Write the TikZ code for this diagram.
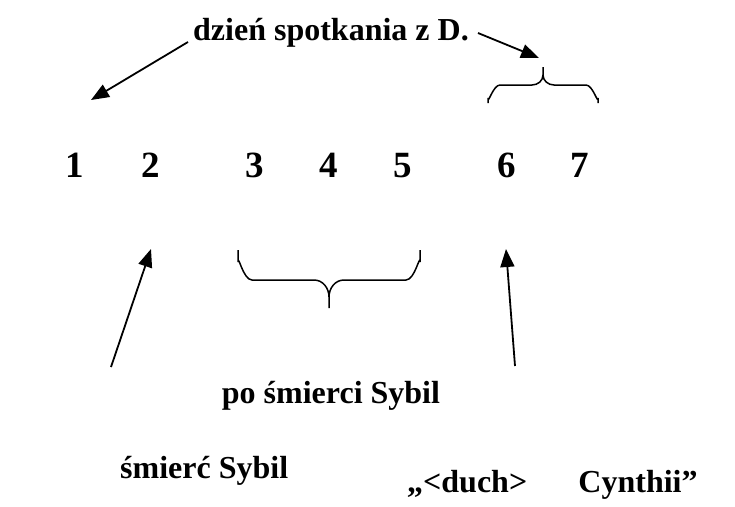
\documentclass[tikz,border=0pt]{standalone}
\usepackage{fontspec}
\setmainfont{Liberation Serif}
\usetikzlibrary{arrows.meta}
\begin{document}
\begin{tikzpicture}[x=1pt,y=-1pt,
  lbl/.style={font=\fontsize{32}{36}\selectfont\bfseries, inner sep=0pt},
  num/.style={font=\fontsize{37}{40}\selectfont\bfseries, inner sep=0pt, anchor=base},
  arr/.style={line width=1.8pt, -{Triangle[length=18pt,width=14pt]}},
  bracket/.style={line width=1.5pt}]
\useasboundingbox (0,0) rectangle (735,506);

% labels
\node[lbl,anchor=base west] (meet) at (193,40) {dzień spotkania z D.};
\node[lbl,anchor=base] (after) at (331,403) {po śmierci Sybil};
\node[lbl,anchor=base west] (death) at (120,478) {śmierć Sybil};
\node[lbl,anchor=base west] (ghost) at (407,492) {„<duch>\hspace{1.6em}Cynthii”};

% the numbered days
\node[num] (n1) at (75,177) {1};
\node[num] (n2) at (151,177) {2};
\node[num] (n3) at (255,177) {3};
\node[num] (n4) at (329,177) {4};
\node[num] (n5) at (403,177) {5};
\node[num] (n6) at (507,177) {6};
\node[num] (n7) at (580,177) {7};

% arrow end points
\coordinate (a1s) at (188,42);
\coordinate (a1e) at (91,100);
\coordinate (a2s) at (478,33);
\coordinate (a2e) at (539,58);
\coordinate (a3s) at (111,367);
\coordinate (a3e) at (151,249);
\coordinate (a4s) at (515,366);
\coordinate (a4e) at (506,249);

\draw[arr] (a1s) -- (a1e);
\draw[arr] (a2s) -- (a2e);
\draw[arr] (a3s) -- (a3e);
\draw[arr] (a4s) -- (a4e);

% brace over days 6 and 7
\draw[bracket] (488,103) -- (488,98) to[out=-90,in=180] (500,85) -- (532,85)
  to[out=0,in=-90] (543,75) -- (543,67) -- (543,75)
  to[out=-90,in=180] (554,85) -- (586,85) to[out=0,in=-90] (598,98) -- (598,103);

% brace under days 3 to 5
\draw[bracket] (238,250) -- (238,262) to[out=90,in=180] (252,280) -- (314,280)
  to[out=0,in=90] (329,297) -- (329,308) -- (329,297)
  to[out=90,in=180] (344,280) -- (406,280) to[out=0,in=90] (420,262) -- (420,250);
\end{tikzpicture}
\end{document}
